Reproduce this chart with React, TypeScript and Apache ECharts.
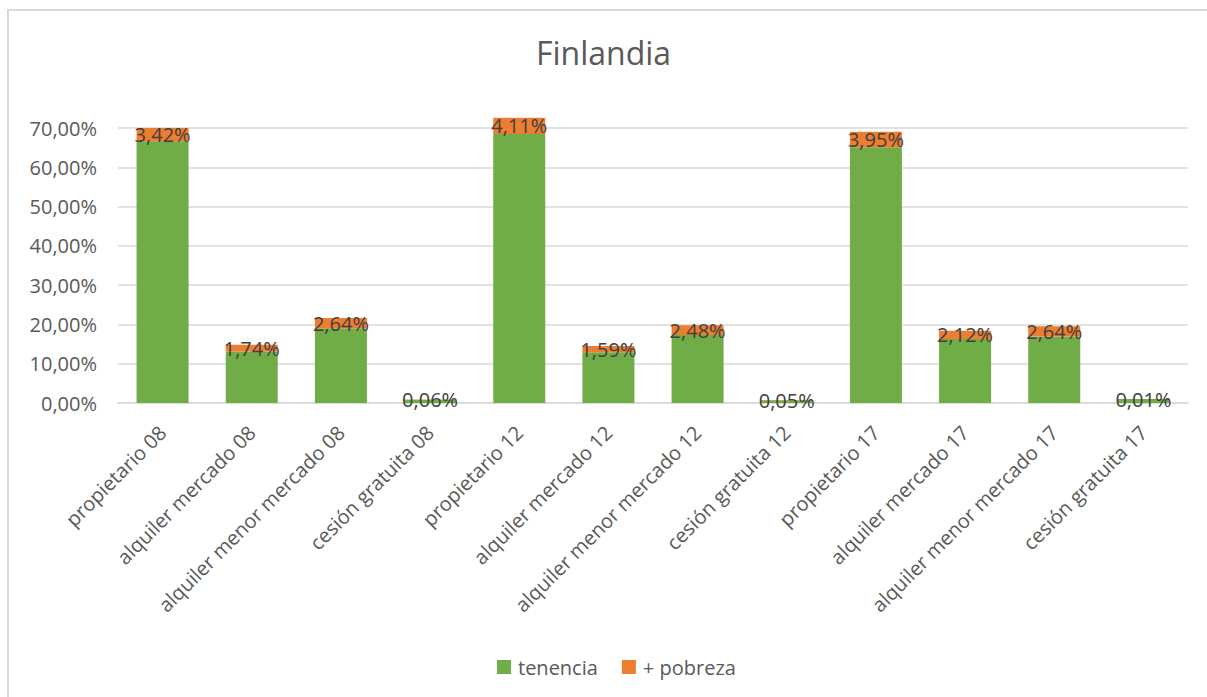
import React, { useEffect, useRef } from "react";
import * as echarts from "echarts";

const categories = [
  "propietario 08",
  "alquiler mercado 08",
  "alquiler menor mercado 08",
  "cesión gratuita 08",
  "propietario 12",
  "alquiler mercado 12",
  "alquiler menor mercado 12",
  "cesión gratuita 12",
  "propietario 17",
  "alquiler mercado 17",
  "alquiler menor mercado 17",
  "cesión gratuita 17",
];
const tenencia = [66.6, 13.1, 19.0, 0.8, 68.5, 12.9, 17.3, 0.7, 65.1, 16.3, 16.9, 1.0];
const pobreza = [3.42, 1.74, 2.64, 0.06, 4.11, 1.59, 2.48, 0.05, 3.95, 2.12, 2.64, 0.01];
const yTicks = [0, 10, 20, 30, 40, 50, 60, 70];

const FONT = "'Open Sans', 'Noto Sans', sans-serif";
const fmt = (v: number) => v.toFixed(2).replace(".", ",") + "%";

export default function App() {
  const ref = useRef<HTMLDivElement>(null);
  useEffect(() => {
    if (!ref.current) return;
    const chart = echarts.init(ref.current, null, { renderer: "svg" });
    chart.setOption({
      animation: false,
      backgroundColor: "#ffffff",
      title: {
        text: "Finlandia",
        left: "center",
        top: 31,
        textStyle: { fontFamily: FONT, fontSize: 32, fontWeight: "normal", color: "#595959" },
      },
      legend: {
        bottom: 15,
        left: 492,
        itemWidth: 14,
        itemHeight: 14,
        itemGap: 24,
        icon: "rect",
        textStyle: { fontFamily: FONT, fontSize: 20, color: "#595959", padding: [0, 0, 0, 2] },
        data: ["tenencia", "+ pobreza"],
      },
      grid: { left: 118, right: 19, top: 128, bottom: 294, containLabel: false },
      xAxis: {
        type: "category",
        data: categories,
        axisLine: { lineStyle: { color: "#d9d9d9", width: 1.5 } },
        axisTick: { show: false },
        axisLabel: {
          rotate: 45,
          interval: 0,
          margin: 26,
          fontFamily: FONT,
          fontSize: 20,
          color: "#595959",
        },
      },
      yAxis: {
        type: "value",
        min: yTicks[0],
        max: yTicks[yTicks.length - 1],
        interval: 10,
        axisLine: { show: false },
        axisTick: { show: false },
        splitLine: { lineStyle: { color: "#d9d9d9", width: 1.5 } },
        axisLabel: {
          margin: 21,
          fontFamily: FONT,
          fontSize: 20,
          color: "#595959",
          formatter: (v: number) => fmt(v),
        },
      },
      series: [
        {
          name: "tenencia",
          type: "bar",
          stack: "t",
          barWidth: 52,
          clip: false,
          itemStyle: { color: "#70ad47" },
          data: tenencia,
        },
        {
          name: "+ pobreza",
          type: "bar",
          stack: "t",
          barWidth: 52,
          clip: false,
          itemStyle: { color: "#ed7d31" },
          label: {
            show: true,
            position: "inside",
            fontFamily: FONT,
            fontSize: 20,
            color: "#404040",
            formatter: (p: any) => fmt(p.value),
          },
          data: pobreza,
        },
      ],
    });
    return () => chart.dispose();
  }, []);
  return (
    <div style={{ position: "fixed", left: 0, top: 0, width: 1207, height: 697, overflow: "hidden", background: "#fff" }}>
      <div ref={ref} style={{ position: "absolute", left: 0, top: 0, width: 1207, height: 697 }} />
      <div
        style={{
          position: "absolute",
          left: 7,
          top: 9,
          width: 1400,
          height: 900,
          borderLeft: "2px solid #d9d9d9",
          borderTop: "2px solid #d9d9d9",
          pointerEvents: "none",
        }}
      />
    </div>
  );
}
